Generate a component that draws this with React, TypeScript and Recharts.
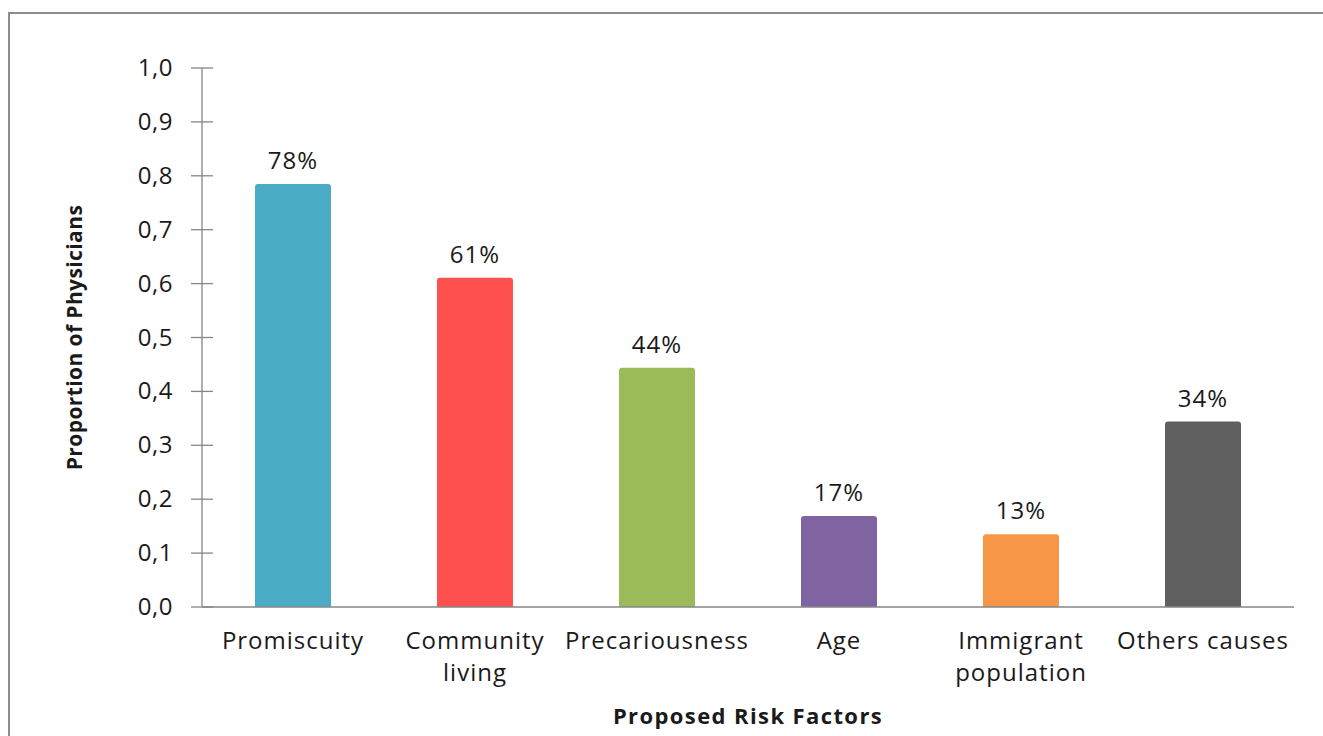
import React from "react";
import { BarChart, Bar, XAxis, YAxis, LabelList, Cell } from "recharts";

const categories = ["Promiscuity", "Community living", "Precariousness", "Age", "Immigrant population", "Others causes"];
const tickLabels = ["Promiscuity", "Community\nliving", "Precariousness", "Age", "Immigrant\npopulation", "Others causes"];
const proportions = [0.785, 0.611, 0.444, 0.169, 0.135, 0.344];
const valueLabels = ["78%", "61%", "44%", "17%", "13%", "34%"];
const barColors = ["#4BACC6", "#FF5050", "#9BBB59", "#8064A2", "#F79646", "#606060"];
const yTicks = [0, 0.1, 0.2, 0.3, 0.4, 0.5, 0.6, 0.7, 0.8, 0.9, 1.0];

const data = categories.map((c, i) => ({
  name: c,
  tick: tickLabels[i],
  value: proportions[i],
  label: valueLabels[i],
}));

const FONT = "'Open Sans', Lato, sans-serif";
const TEXT = "#1a1a1a";
const AXIS = "#868686";

const YTick = (props: any) => {
  const { x, y, payload } = props;
  return (
    <g>
      <line x1={x - 11} x2={x + 11} y1={y} y2={y} stroke={AXIS} strokeWidth={1.3} />
      <text
        x={x - 29}
        y={y}
        dy={8}
        textAnchor="end"
        fontSize={24}
        letterSpacing={0.5}
        fill={TEXT}
        fontFamily={FONT}
      >
        {Number(payload.value).toFixed(1).replace(".", ",")}
      </text>
    </g>
  );
};

const XTick = (props: any) => {
  const { x, y, payload, index } = props;
  const label = tickLabels[index] ?? String(payload.value);
  const lines = label.split("\n");
  return (
    <text
      x={x}
      y={y + 42}
      textAnchor="middle"
      fontSize={24}
      letterSpacing={1}
      fill={TEXT}
      fontFamily={FONT}
    >
      {lines.map((l: string, i: number) => (
        <tspan key={i} x={x} dy={i === 0 ? 0 : 32}>
          {l}
        </tspan>
      ))}
    </text>
  );
};

export default function App() {
  return (
    <div
      style={{
        position: "fixed",
        left: 0,
        top: 0,
        width: 1323,
        height: 736,
        overflow: "hidden",
        background: "#fff",
      }}
    >
      <div
        style={{
          position: "absolute",
          left: 8,
          top: 12,
          width: 1400,
          height: 800,
          border: "2px solid #8c8c8c",
          boxSizing: "border-box",
        }}
      />
      <div style={{ position: "absolute", left: 0, top: 0 }}>
        <BarChart
          width={1323}
          height={736}
          data={data}
          margin={{ top: 68, right: 29, bottom: 0, left: 0 }}
        >
          <XAxis
            dataKey="name"
            height={129}
            axisLine={{ stroke: AXIS, strokeWidth: 1.3 }}
            tickLine={false}
            tickSize={0}
            tickMargin={0}
            interval={0}
            tick={<XTick />}
            label={{
              content: (p: any) => {
                const vb = p.viewBox;
                return (
                  <text
                    x={vb.x + vb.width / 2}
                    y={vb.y + 117}
                    textAnchor="middle"
                    fontSize={22}
                    letterSpacing={1.4}
                    fontWeight="bold"
                    fill={TEXT}
                    fontFamily={FONT}
                  >
                    Proposed Risk Factors
                  </text>
                );
              },
            }}
          />
          <YAxis
            width={202}
            domain={[0, 1]}
            ticks={yTicks}
            interval={0}
            axisLine={{ stroke: AXIS, strokeWidth: 1.3 }}
            tickLine={false}
            tickSize={0}
            tickMargin={0}
            tick={<YTick />}
            label={{
              content: (p: any) => {
                const vb = p.viewBox;
                const cx = 82;
                const cy = vb.y + vb.height / 2;
                return (
                  <text
                    x={cx}
                    y={cy}
                    transform={`rotate(-90 ${cx} ${cy})`}
                    textAnchor="middle"
                    fontSize={21}
                    letterSpacing={0.4}
                    fontWeight="bold"
                    fill={TEXT}
                    fontFamily={FONT}
                  >
                    Proportion of Physicians
                  </text>
                );
              },
            }}
          />
          <Bar dataKey="value" barSize={76} isAnimationActive={false} radius={[3, 3, 0, 0]}>
            {data.map((d, i) => (
              <Cell key={d.name} fill={barColors[i]} />
            ))}
            <LabelList
              dataKey="label"
              position="top"
              offset={15}
              fontSize={24}
              letterSpacing={1}
              fill={TEXT}
              fontFamily={FONT}
            />
          </Bar>
        </BarChart>
      </div>
    </div>
  );
}
